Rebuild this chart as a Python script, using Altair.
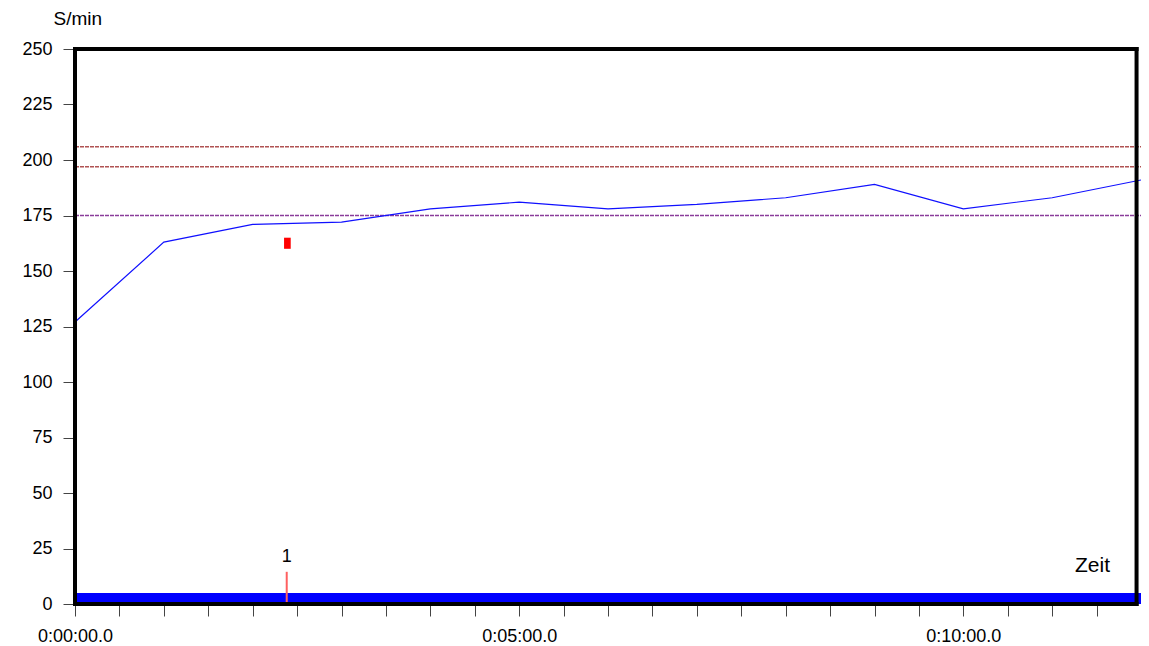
import altair as alt
import pandas as pd

# ---- data ----
minutes = list(range(13))
time_s = [m * 60 for m in minutes]
cadence = [127, 163, 171, 172, 178, 181, 178, 180, 183, 189, 178, 183, 191]

ref_values = [206, 197, 175]
ref_colors = ["#b05252", "#b05252", "#8a3c9a"]

lap_time = [143]
lap_label = ["1"]
lap_height = [14.5]

marker_t0 = [141.2]
marker_t1 = [145.7]
marker_lo = [160]
marker_hi = [165]

band_t0 = [0]
band_t1 = [720]
band_lo = [0]
band_hi = [5]

frame_right = 717
x_tick_values = list(range(0, 721, 30))
x_label_values = [0, 300, 600]
x_labels = ["0:00:00.0", "0:05:00.0", "0:10:00.0"]
y_tick_values = list(range(0, 251, 25))

FONT = "Liberation Sans"

label_expr = " : ".join(
    [f"datum.value == {v} ? '{l}'" for v, l in zip(x_label_values, x_labels)]
) + " : ''"

xscale = alt.Scale(domain=[0, 720], nice=False, zero=False)
yscale = alt.Scale(domain=[0, 250], nice=False)

xaxis = alt.Axis(
    values=x_tick_values, labelExpr=label_expr, domain=False, grid=False,
    tickSize=12, tickColor="#444444", tickWidth=1, labelPadding=11,
    labelFont=FONT, labelFontSize=18, labelColor="black", labelAngle=0,
    labelOverlap=False, labelFlush=False,
    title="Zeit", titleFont=FONT, titleFontSize=21, titleFontWeight="normal",
    titleColor="black", titleX=1017, titleY=-33, titleAlign="center",
    titleBaseline="alphabetic", titleAnchor=None,
)
yaxis = alt.Axis(
    values=y_tick_values, domain=False, grid=False,
    tickSize=12, tickColor="#444444", tickWidth=1, labelPadding=11,
    labelFont=FONT, labelFontSize=18, labelColor="black",
    title="S/min", titleFont=FONT, titleFontSize=19, titleFontWeight="normal",
    titleColor="black", titleAngle=0, titleX=-22, titleY=-25,
    titleAlign="left", titleBaseline="alphabetic",
)

line_df = pd.DataFrame({"t": time_s, "v": cadence})
ref_df = pd.DataFrame({"v": ref_values, "c": ref_colors})
lap_df = pd.DataFrame({"t": lap_time, "v": lap_height, "lab": lap_label, "v0": [0]})
marker_df = pd.DataFrame({"t": marker_t0, "t2": marker_t1, "v": marker_lo, "v2": marker_hi})
band_df = pd.DataFrame({"t": band_t0, "t2": band_t1, "v": band_lo, "v2": band_hi})
one = pd.DataFrame({"a": [0]})

band = alt.Chart(band_df).mark_rect(color="#0000ff").encode(
    x=alt.X("t:Q", scale=xscale, axis=xaxis),
    x2="t2:Q",
    y=alt.Y("v:Q", scale=yscale, axis=yaxis),
    y2="v2:Q",
)

refs = alt.Chart(ref_df).mark_rule(strokeWidth=1.5, strokeDash=[4, 1]).encode(
    y=alt.Y("v:Q"),
    x=alt.datum(0),
    x2=alt.datum(720),
    color=alt.Color("c:N", scale=None, legend=None),
)

line = alt.Chart(line_df).mark_line(color="#1010ff", strokeWidth=1.2).encode(
    x="t:Q", y="v:Q"
)

marker = alt.Chart(marker_df).mark_rect(color="#ff0000").encode(
    x="t:Q", x2="t2:Q", y="v:Q", y2="v2:Q"
)

lap_rule = alt.Chart(lap_df).mark_rule(color="#ff6060", strokeWidth=2).encode(
    x="t:Q", y="v0:Q", y2="v:Q"
)
lap_text = alt.Chart(lap_df).mark_text(
    font=FONT, fontSize=18, color="black", baseline="alphabetic", dy=-10
).encode(x="t:Q", y="v:Q", text="lab:N")

frame_style = dict(color="black", strokeWidth=4, strokeCap="square")
f_left = alt.Chart(one).mark_rule(**frame_style).encode(
    x=alt.datum(0), y=alt.datum(0), y2=alt.datum(250))
f_right = alt.Chart(one).mark_rule(**frame_style).encode(
    x=alt.datum(frame_right), y=alt.datum(0), y2=alt.datum(250))
f_top = alt.Chart(one).mark_rule(**frame_style).encode(
    y=alt.datum(250), x=alt.datum(0), x2=alt.datum(frame_right))
f_bottom = alt.Chart(one).mark_rule(**frame_style).encode(
    y=alt.datum(0), x=alt.datum(0), x2=alt.datum(frame_right))

chart = alt.layer(
    band, refs, line, marker, lap_rule, lap_text, f_left, f_right, f_top, f_bottom
).properties(
    width=1066, height=555,
    autosize=alt.AutoSizeParams(type="none"),
    padding={"left": 67, "top": 41, "right": 0, "bottom": 42},
    background="white",
).configure_view(stroke=None)

chart.save("out.html", embed_options={"renderer": "svg", "actions": False})
